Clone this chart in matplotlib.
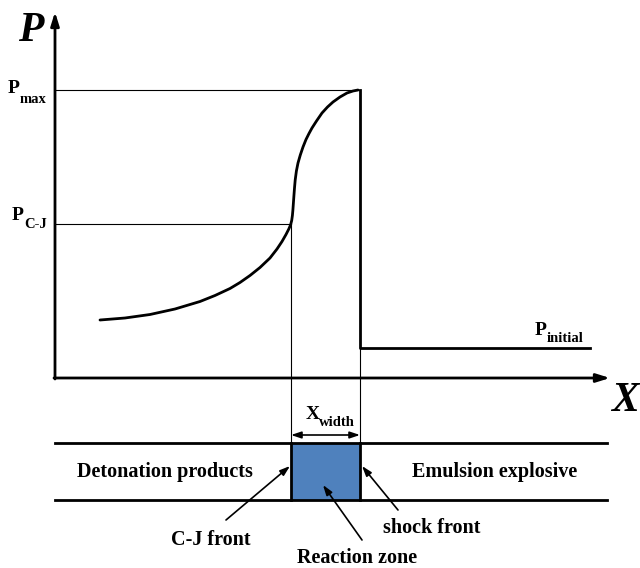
import matplotlib
matplotlib.use("Agg")
import matplotlib.pyplot as plt
from matplotlib.patches import Rectangle

# ---- data (canvas pixel units) ----
curve_x = [100, 125, 150, 175, 200, 215, 230, 240, 250, 260, 270, 277, 282, 286, 288.8, 290.6,
           291.7, 292.4, 292.9, 293.4, 293.9, 294.5, 295.2, 296.4, 298, 300.3, 303, 306, 309, 312,
           316.5, 322, 327.5, 333, 340, 347, 353, 358]
curve_y = [320, 318, 314.5, 309, 301.5, 295.5, 288.5, 282.5, 275.5, 267.5, 258, 249, 241.5, 234.5, 229, 224.8,
           220.5, 215.5, 210, 203, 196, 188, 180, 171, 163, 155, 147, 139.5, 133.5, 128,
           121, 113, 107, 102, 97, 93, 91, 90]
p_max = 90
p_cj = 224
p_initial = 348
x_cj = 291
x_shock = 360
x_end = 590
sub_labels = ["max", "C-J", "initial"]
zone_labels = ["Detonation products", "Emulsion explosive"]
pointer_labels = ["C-J front", "Reaction zone", "shock front"]

fig = plt.figure(figsize=(6.4, 5.68), dpi=100)
ax = fig.add_axes([0, 0, 1, 1])
ax.set_xlim(0, 640)
ax.set_ylim(568, 0)
ax.axis('off')

serif = 'Liberation Serif'


def sub_text(x, y, main, sub, size=14, subsize=10.5, dx=12, dy=7):
    ax.text(x, y, main, fontsize=size, fontweight='bold', family=serif, ha='left', va='baseline')
    ax.text(x + dx, y + dy, sub, fontsize=subsize, fontweight='bold', family=serif, ha='left', va='baseline')


# axes arrows
ax.annotate('', xy=(55, 12), xytext=(55, 379),
            arrowprops=dict(arrowstyle='-|>,head_length=0.8,head_width=0.25', lw=2, color='black', shrinkA=0, shrinkB=0))
ax.annotate('', xy=(610, 378), xytext=(54, 378),
            arrowprops=dict(arrowstyle='-|>,head_length=0.8,head_width=0.25', lw=2, color='black', shrinkA=0, shrinkB=0))
ax.text(31, 31, 'P', fontsize=30, fontweight='bold', fontstyle='italic', family=serif, ha='center', va='center')
ax.text(625, 401, 'X', fontsize=30, fontweight='bold', fontstyle='italic', family=serif, ha='center', va='center')

# reference lines
ax.plot([55, x_shock], [p_max, p_max], color='black', lw=0.8)
ax.plot([55, x_cj], [p_cj, p_cj], color='black', lw=0.8)
ax.plot([x_cj, x_cj], [p_cj, 443], color='black', lw=0.8)
ax.plot([x_shock, x_shock], [p_initial, 443], color='black', lw=0.8)

# pressure profile
ax.plot(curve_x, curve_y, color='black', lw=2, solid_capstyle='round', solid_joinstyle='round')
ax.plot([x_shock, x_shock, x_end], [p_max, p_initial, p_initial], color='black', lw=2)

# labels
sub_text(8, 93, 'P', sub_labels[0], dy=10)
sub_text(12, 220, 'P', sub_labels[1], dy=8)
sub_text(535, 335, 'P', sub_labels[2], dy=7)

# lower tube
ax.plot([55, 607], [443, 443], color='black', lw=2)
ax.plot([55, 607], [500, 500], color='black', lw=2)
ax.add_patch(Rectangle((x_cj, 443), x_shock - x_cj, 57, facecolor='#4F81BD', edgecolor='none'))
ax.plot([x_cj, x_cj], [443, 500], color='black', lw=2)
ax.plot([x_shock, x_shock], [443, 500], color='black', lw=2)

# width arrow
ax.annotate('', xy=(x_cj, 435), xytext=(x_shock, 435),
            arrowprops=dict(arrowstyle='<|-|>,head_length=0.6,head_width=0.2', lw=1.2, color='black', shrinkA=0, shrinkB=0))
sub_text(306, 419, 'X', 'width', dx=13, dy=7)

fs = 14.5
ax.text(165, 472, zone_labels[0], fontsize=fs, fontweight='bold', family=serif, ha='center', va='center')
ax.text(495, 472, zone_labels[1], fontsize=fs, fontweight='bold', family=serif, ha='center', va='center')

ax.text(211, 540, pointer_labels[0], fontsize=fs, fontweight='bold', family=serif, ha='center', va='center')
ax.text(357, 558, pointer_labels[1], fontsize=fs, fontweight='bold', family=serif, ha='center', va='center')
ax.text(432, 528, pointer_labels[2], fontsize=fs, fontweight='bold', family=serif, ha='center', va='center')

arrow_kw = dict(arrowstyle='-|>,head_length=0.6,head_width=0.2', lw=1.2, color='black', shrinkA=0, shrinkB=0)
ax.annotate('', xy=(290, 466), xytext=(226, 520), arrowprops=arrow_kw)
ax.annotate('', xy=(323, 485), xytext=(362, 540), arrowprops=arrow_kw)
ax.annotate('', xy=(362, 466), xytext=(398, 510), arrowprops=arrow_kw)

fig.savefig('out.png', dpi=100)
